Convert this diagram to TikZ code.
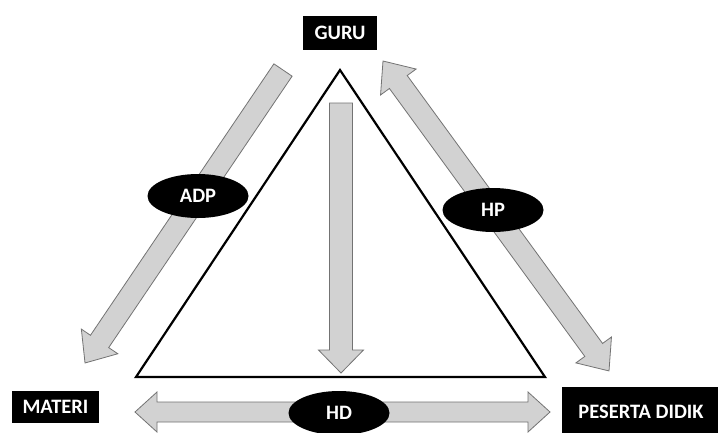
\documentclass[tikz,border=0pt]{standalone}
\usepackage{fontspec}
\setmainfont{Carlito}
\usetikzlibrary{shapes.geometric}
\tikzset{
  fatarrow/.style={draw={rgb,255:red,115;green,115;blue,115}, line width=0.8pt, fill={rgb,255:red,210;green,210;blue,210}, line join=miter},
  lbltext/.style={text=white, font=\bfseries\fontsize{20.5}{20.5}\selectfont},
  blackbox/.style={rectangle, fill=black, lbltext, inner sep=0pt},
  blackoval/.style={ellipse, fill=black, lbltext, inner sep=0pt, minimum width=101pt, minimum height=44pt},
  tri/.style={draw=black, line width=2.2pt, line join=miter}
}
% single fat arrow: start, angle, length, shaft half, head half, head length
\newcommand\SingleFat[6]{%
  \begin{scope}[shift={#1}, rotate=#2]
    \draw[fatarrow] (0,-#4) -- ({#3-#6},-#4) -- ({#3-#6},-#5) -- (#3,0) -- ({#3-#6},#5) -- ({#3-#6},#4) -- (0,#4) -- cycle;
  \end{scope}}
\newcommand\DoubleFat[6]{%
  \begin{scope}[shift={#1}, rotate=#2]
    \draw[fatarrow] (0,0) -- (#6,-#5) -- (#6,-#4) -- ({#3-#6},-#4) -- ({#3-#6},-#5) -- (#3,0) -- ({#3-#6},#5) -- ({#3-#6},#4) -- (#6,#4) -- (#6,#5) -- cycle;
  \end{scope}}
\begin{document}
\begin{tikzpicture}[x=1pt, y=-1pt]
  \useasboundingbox (0,0) rectangle (718,432);
  \clip (0,0) rectangle (718,432);
  \fill[white] (0,0) rectangle (718,432);

  % triangle
  \coordinate (apex) at (340,70);
  \coordinate (bl) at (136,377);
  \coordinate (br) at (545,377);
  \draw[tri] (apex) -- (bl) -- (br) -- cycle;

  % arrows
  \coordinate (adpS) at (283,70);
  \SingleFat{(adpS)}{235.95}{353.6}{11}{22}{26}
  \coordinate (hpS) at (383,61);
  \DoubleFat{(hpS)}{306.1}{383.6}{11}{22}{26}
  \coordinate (hdS) at (135,412);
  \DoubleFat{(hdS)}{0}{415}{10}{20}{22}
  \coordinate (vS) at (341,103);
  \SingleFat{(vS)}{270}{270}{11.5}{22.5}{23}

  % ovals
  \node[blackoval] (adp) at (198,196) {ADP};
  \node[blackoval] (hp) at (493,210) {HP};
  \node[blackoval] (hd) at (339,413) {HD};

  % boxes
  \node[blackbox, minimum width=74pt, minimum height=34pt] (guru) at (340,33) {GURU};
  \node[blackbox, minimum width=87pt, minimum height=32pt] (materi) at (55.5,407) {MATERI};
  \node[blackbox, minimum width=160pt, minimum height=50pt, anchor=north west] (pd) at (562,387) {};
  \node[lbltext] (pdt) at (641,412) {PESERTA DIDIK};
\end{tikzpicture}
\end{document}
